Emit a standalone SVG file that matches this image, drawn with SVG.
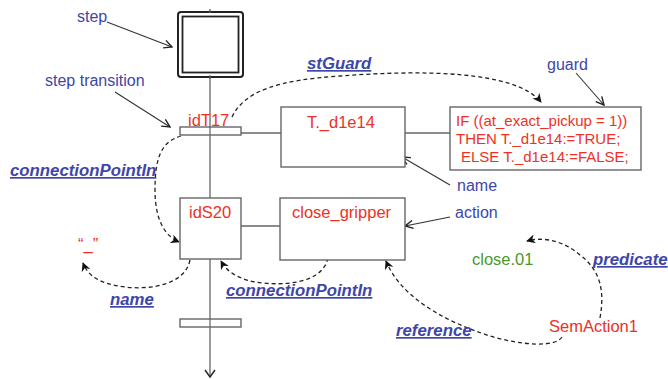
<svg xmlns="http://www.w3.org/2000/svg" width="668" height="379" viewBox="0 0 668 379">
<style>
  text { font-family: "Liberation Sans", Arial, sans-serif; }
  .lbl { fill: #3e46a8; font-size: 16px; }
  .rel { fill: #3e46a8; font-size: 16.8px; font-weight: bold; font-style: italic; text-decoration: underline; }
  .red { fill: #ee3124; font-size: 16.5px; }
  .code { fill: #ee3124; font-size: 15px; }
  .grn { fill: #4a9a2a; font-size: 16.5px; }
  .box { fill: #fff; stroke: #666; stroke-width: 1.4; }
  .wire { fill: none; stroke: #666; stroke-width: 1.3; }
  .dash { fill: none; stroke: #222; stroke-width: 1.3; stroke-dasharray: 4 3; marker-end: url(#barb); }
  .ptr { fill: none; stroke: #333; stroke-width: 1.1; marker-end: url(#open); }
</style>
<defs>
  <marker id="barb" viewBox="0 0 10 10" refX="9" refY="5" markerWidth="9" markerHeight="9" markerUnits="userSpaceOnUse" orient="auto">
    <path d="M0,0 L10,5 L0,10 L3,5 z" fill="#111"/>
  </marker>
  <marker id="open" viewBox="0 0 10 10" refX="9" refY="5" markerWidth="10" markerHeight="10" markerUnits="userSpaceOnUse" orient="auto">
    <path d="M1,1 L9,5 L1,9" fill="none" stroke="#222" stroke-width="1.4"/>
  </marker>
</defs>

<g id="connectors">
  <path class="wire" d="M210,10 L210,376"/>
  <path d="M205,370 L210,377 L215,370" fill="none" stroke="#222" stroke-width="1.4"/>
  <path class="wire" d="M241,133 L281,133"/>
  <path class="wire" d="M405,133 L450,133"/>
  <path class="wire" d="M241,226 L280,226"/>
  <path class="dash" d="M232,117 C245,90 280,80 340,76 C420,70 515,70 541,102"/>
  <path class="dash" d="M181,136 C160,142 155,160 155,190 C155,220 165,236 179,242"/>
  <path class="dash" d="M190,260 C185,285 150,290 125,287 C100,284 88,276 83,263"/>
  <path class="dash" d="M328,258 C322,285 280,286 255,282 C235,278 226,270 221,261"/>
  <path class="dash" d="M600,318 C605,290 600,270 580,255 C565,242 545,236 527,241"/>
  <path class="dash" d="M562,337 C555,348 520,345 490,336 C440,320 400,295 386,261"/>
  <path class="ptr" d="M107,22 L172,47"/>
  <path class="ptr" d="M115,92 L170,127"/>
  <path class="ptr" d="M576,73 L604,105"/>
  <path class="ptr" d="M450,185 L402,157"/>
  <path class="ptr" d="M450,217 L405,226"/>
</g>

<g id="step">
  <rect x="178" y="12" width="65" height="65" rx="3" fill="#fff" stroke="#222" stroke-width="2"/>
  <rect x="182.5" y="16.5" width="56" height="56" fill="#fff" stroke="#222" stroke-width="1.8"/>
  <line x1="210" y1="9" x2="210" y2="13" stroke="#666" stroke-width="1.2"/>
  <line x1="210" y1="75" x2="210" y2="79" stroke="#666" stroke-width="1.2"/>
</g>

<g id="idT17">
  <rect class="box" x="180" y="127" width="61" height="8" stroke="#444"/>
  <line x1="210" y1="127" x2="210" y2="135" stroke="#666" stroke-width="1.2"/>
  <text class="red" x="188" y="126">idT17</text>
</g>

<g id="T_d1e14">
  <rect class="box" x="281" y="107" width="124" height="60"/>
  <text class="red" x="307" y="128">T._d1e14</text>
</g>

<g id="guardBox">
  <rect class="box" x="450" y="107" width="191" height="63"/>
  <text class="code" x="456" y="126">IF ((at_exact_pickup = 1))</text>
  <text class="code" x="456" y="144">THEN T._d1e14:=TRUE;</text>
  <text class="code" x="461" y="162">ELSE T._d1e14:=FALSE;</text>
</g>

<g id="idS20">
  <rect class="box" x="180" y="198" width="61" height="61"/>
  <text class="red" x="189" y="218">idS20</text>
</g>

<g id="close_gripper">
  <rect class="box" x="280" y="198" width="125" height="62"/>
  <text class="red" x="292" y="218">close_gripper</text>
</g>

<g id="bottomTransition">
  <rect class="box" x="180" y="319" width="61" height="8" stroke="#444"/>
  <line x1="210" y1="319" x2="210" y2="327" stroke="#666" stroke-width="1.2"/>
</g>

<g id="emptyName">
  <text class="red" x="78" y="250" font-size="16">“_”</text>
</g>

<g id="close01"><text class="grn" x="472" y="265">close.01</text></g>
<g id="SemAction1"><text class="red" x="549" y="332">SemAction1</text></g>

<g id="labels">
  <text class="lbl" x="77" y="22">step</text>
  <text class="lbl" x="45" y="86">step transition</text>
  <text class="lbl" x="547" y="70">guard</text>
  <text class="lbl" x="457" y="191">name</text>
  <text class="lbl" x="455" y="218">action</text>
  <text class="rel" x="307" y="69">stGuard</text>
  <text class="rel" x="10" y="176">connectionPointIn</text>
  <text class="rel" x="110" y="305">name</text>
  <text class="rel" x="226" y="296">connectionPointIn</text>
  <text class="rel" x="593" y="265">predicate</text>
  <text class="rel" x="396" y="336">reference</text>
</g>
</svg>
